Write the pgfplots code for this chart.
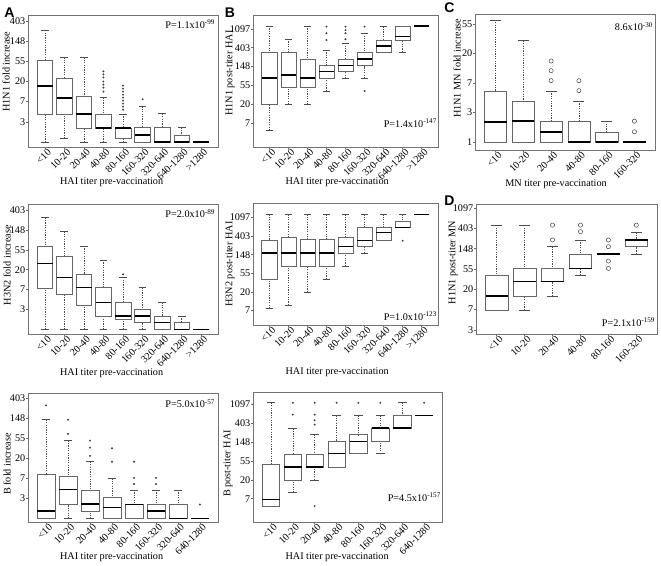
\documentclass[border=0pt]{standalone}
\usepackage{pgfplots}
\pgfplotsset{compat=1.18}
\usepgfplotslibrary{statistics}
\usepackage{fontspec}
\setmainfont{Liberation Serif}
\newfontfamily\lettfont{Liberation Sans}
\newcommand{\fs}{\fontsize{10.2}{12}\selectfont}

\pgfplotsset{
  boxplot/draw direction=y,
  boxplot/box extend=0.8,
  boxplot/whisker extend=0.4,
  boxplot/every box/.style={draw=black!60, line width=0.55pt},
  boxplot/every median/.style={draw=black, line width=1.5pt},
  boxplot/draw/lower whisker/.code={%
    \draw[black!70, line width=0.45pt, dash pattern=on 1.2pt off 1.2pt]
      (boxplot box cs:\pgfplotsboxplotvalue{lower whisker},0.5) --
      (boxplot box cs:\pgfplotsboxplotvalue{lower quartile},0.5);
    \draw[black!70, line width=0.55pt]
      (boxplot whisker cs:\pgfplotsboxplotvalue{lower whisker},0) --
      (boxplot whisker cs:\pgfplotsboxplotvalue{lower whisker},1);
  },
  boxplot/draw/upper whisker/.code={%
    \draw[black!70, line width=0.45pt, dash pattern=on 1.2pt off 1.2pt]
      (boxplot box cs:\pgfplotsboxplotvalue{upper whisker},0.5) --
      (boxplot box cs:\pgfplotsboxplotvalue{upper quartile},0.5);
    \draw[black!70, line width=0.55pt]
      (boxplot whisker cs:\pgfplotsboxplotvalue{upper whisker},0) --
      (boxplot whisker cs:\pgfplotsboxplotvalue{upper whisker},1);
  },
  panel/.style={
    scale only axis, anchor=north west, enlargelimits=false,
    axis line style={draw=black!55, line width=0.6pt},
    tick align=outside, major tick length=2pt,
    tick style={black!60, line width=0.5pt},
    xtick pos=bottom, ytick pos=left,
    tick label style={font=\fs},
    label style={font=\fs},
    xticklabel style={xshift=5pt, yshift=-1pt, rotate=45, anchor=east, inner sep=0.5pt},
    yticklabel style={inner sep=0.6pt},
  },
  hai9/.style={xmin=0.14, xmax=9.86, xtick={1,...,9},
    xticklabels={<10,10-20,20-40,40-80,80-160,160-320,320-640,640-1280,>1280}},
  hai8/.style={xmin=0.18, xmax=8.82, xtick={1,...,8},
    xticklabels={<10,10-20,20-40,40-80,80-160,160-320,320-640,640-1280}},
  mn6/.style={xmin=0.26, xmax=6.74, xtick={1,...,6},
    xticklabels={<10,10-20,20-40,40-80,80-160,160-320}},
  fold/.style={ytick={1,...,6}, yticklabels={3,7,20,55,148,403}},
  post/.style={ytick={2,...,7}, yticklabels={7,20,55,148,403,1097}},
  o1/.style={black, mark=*, mark size=0.75pt, mark options={black!75}},
  o2/.style={black, mark=o, mark size=2.1pt, mark options={black!75, line width=0.5pt}},
}

\begin{document}
\begin{tikzpicture}
\useasboundingbox (0,0) rectangle (661pt,-565pt);

% ---------------- A : H1N1 fold increase
\begin{axis}[panel, hai9, fold, at={(28pt,-15pt)}, width=190pt, height=132pt,
  ymin=-0.25, ymax=6.3,
  xlabel={HAI titer pre-vaccination}, ylabel={H1N1 fold increase},
  xlabel style={at={(axis description cs:0.44,-0.265)}, anchor=center},
  ylabel style={at={(axis description cs:-0.115,0.57)}, anchor=center}]
\addplot[o1, boxplot prepared={draw position=1, lower whisker=0, lower quartile=1.39, median=2.77, upper quartile=4.05, upper whisker=5.55}] coordinates {};
\addplot[o1, boxplot prepared={draw position=2, lower whisker=0.18, lower quartile=1.39, median=2.18, upper quartile=3.15, upper whisker=4.2}] coordinates {};
\addplot[o1, boxplot prepared={draw position=3, lower whisker=0, lower quartile=0.69, median=1.39, upper quartile=2.27, upper whisker=4.2}] coordinates {};
\addplot[o1, boxplot prepared={draw position=4, lower whisker=0, lower quartile=0.69, median=0.69, upper quartile=1.39, upper whisker=2.2}] table[row sep=\\, y index=0] {data\\ 2.5\\ 2.7\\ 2.85\\ 3.0\\ 3.2\\ 3.35\\ 3.5\\};
\addplot[o1, boxplot prepared={draw position=5, lower whisker=0, lower quartile=0.18, median=0.69, upper quartile=0.69, upper whisker=1.39}] table[row sep=\\, y index=0] {data\\ 1.6\\ 1.75\\ 1.9\\ 2.05\\ 2.2\\ 2.35\\ 2.5\\ 2.65\\ 2.8\\};
\addplot[o1, boxplot prepared={draw position=6, lower whisker=0, lower quartile=0, median=0.35, upper quartile=0.71, upper whisker=1.76}] table[row sep=\\, y index=0] {data\\ 2.12\\};
\addplot[o1, boxplot prepared={draw position=7, lower whisker=0, lower quartile=0, median=0, upper quartile=0.71, upper whisker=1.4}] coordinates {};
\addplot[o1, boxplot prepared={draw position=8, lower whisker=0, lower quartile=0, median=0, upper quartile=0.35, upper whisker=0.71}] coordinates {};
\addplot[o1, boxplot prepared={draw position=9, lower whisker=0, lower quartile=0, median=0, upper quartile=0, upper whisker=0}] coordinates {};
\node[anchor=north east, font=\fs, inner sep=0pt] at (rel axis cs:0.985,0.965) {P=1.1x10\textsuperscript{-99}};
\end{axis}

% ---------------- B : H1N1 post-titer HAI
\begin{axis}[panel, hai9, post, at={(253pt,-15pt)}, width=185pt, height=132pt,
  ymin=0.72, ymax=7.74,
  xlabel={HAI titer pre-vaccination}, ylabel={H1N1 post-titer HAI},
  xlabel style={at={(axis description cs:0.455,-0.265)}, anchor=center},
  ylabel style={at={(axis description cs:-0.124,0.56)}, anchor=center}]
\addplot[o1, boxplot prepared={draw position=1, lower whisker=1.61, lower quartile=3.0, median=4.38, upper quartile=5.77, upper whisker=7.15}] coordinates {};
\addplot[o1, boxplot prepared={draw position=2, lower whisker=3.0, lower quartile=3.88, median=4.55, upper quartile=5.77, upper whisker=6.46}] coordinates {};
\addplot[o1, boxplot prepared={draw position=3, lower whisker=3.0, lower quartile=3.88, median=4.38, upper quartile=5.39, upper whisker=7.15}] coordinates {};
\addplot[o1, boxplot prepared={draw position=4, lower whisker=3.7, lower quartile=4.38, median=4.73, upper quartile=5.05, upper whisker=5.88}] table[row sep=\\, y index=0] {data\\ 6.41\\ 6.77\\ 7.12\\};
\addplot[o1, boxplot prepared={draw position=5, lower whisker=4.38, lower quartile=4.73, median=5.05, upper quartile=5.39, upper whisker=6.24}] table[row sep=\\, y index=0] {data\\ 6.45\\ 6.77\\ 6.94\\ 7.12\\};
\addplot[o1, boxplot prepared={draw position=6, lower whisker=4.38, lower quartile=5.05, median=5.39, upper quartile=5.77, upper whisker=6.77}] table[row sep=\\, y index=0] {data\\ 7.12\\ 3.7\\};
\addplot[o1, boxplot prepared={draw position=7, lower whisker=5.77, lower quartile=5.77, median=6.1, upper quartile=6.41, upper whisker=7.12}] coordinates {};
\addplot[o1, boxplot prepared={draw position=8, lower whisker=5.77, lower quartile=6.41, median=6.6, upper quartile=7.12, upper whisker=7.12}] coordinates {};
\addplot[o1, boxplot prepared={draw position=9, lower whisker=7.15, lower quartile=7.15, median=7.15, upper quartile=7.15, upper whisker=7.15}] coordinates {};
\node[anchor=base east, font=\fs, inner sep=0pt] at (rel axis cs:0.995,0.15) {P=1.4x10\textsuperscript{-147}};
\end{axis}

% ---------------- C : H1N1 MN fold increase
\begin{axis}[panel, mn6, at={(475pt,-14pt)}, width=180pt, height=136pt,
  ymin=-0.28, ymax=4.35, ytick={0,...,4}, yticklabels={1,3,7,20,55},
  xlabel={MN titer pre-vaccination}, ylabel={H1N1 MN fold increase},
  xlabel style={at={(axis description cs:0.45,-0.254)}, anchor=center},
  ylabel style={at={(axis description cs:-0.1,0.6)}, anchor=center}]
\addplot[o2, boxplot prepared={draw position=1, lower whisker=0, lower quartile=0, median=0.68, upper quartile=1.73, upper whisker=4.15}] coordinates {};
\addplot[o2, boxplot prepared={draw position=2, lower whisker=0, lower quartile=0, median=0.7, upper quartile=1.39, upper whisker=3.44}] coordinates {};
\addplot[o2, boxplot prepared={draw position=3, lower whisker=0, lower quartile=0, median=0.34, upper quartile=0.7, upper whisker=1.73}] table[row sep=\\, y index=0] {data\\ 2.08\\ 2.42\\ 2.75\\};
\addplot[o2, boxplot prepared={draw position=4, lower whisker=0, lower quartile=0, median=0, upper quartile=0.7, upper whisker=1.39}] table[row sep=\\, y index=0] {data\\ 1.74\\ 2.08\\};
\addplot[o2, boxplot prepared={draw position=5, lower whisker=0, lower quartile=0, median=0, upper quartile=0.34, upper whisker=0.7}] coordinates {};
\addplot[o2, boxplot prepared={draw position=6, lower whisker=0, lower quartile=0, median=0, upper quartile=0, upper whisker=0}] table[row sep=\\, y index=0] {data\\ 0.34\\ 0.7\\};
\node[anchor=north east, font=\fs, inner sep=0pt] at (rel axis cs:0.99,0.94) {8.6x10\textsuperscript{-30}};
\end{axis}

% ---------------- A2 : H3N2 fold increase
\begin{axis}[panel, hai9, fold, at={(28pt,-204pt)}, width=190pt, height=130pt,
  ymin=-0.23, ymax=6.3,
  xlabel={HAI titer pre-vaccination}, ylabel={H3N2 fold increase},
  xlabel style={at={(axis description cs:0.44,-0.30)}, anchor=center},
  ylabel style={at={(axis description cs:-0.11,0.53)}, anchor=center}]
\addplot[o1, boxplot prepared={draw position=1, lower whisker=0, lower quartile=2.06, median=3.32, upper quartile=4.19, upper whisker=5.62}] coordinates {};
\addplot[o1, boxplot prepared={draw position=2, lower whisker=0, lower quartile=1.76, median=2.62, upper quartile=3.66, upper whisker=4.92}] coordinates {};
\addplot[o1, boxplot prepared={draw position=3, lower whisker=0, lower quartile=1.19, median=2.1, upper quartile=2.79, upper whisker=4.19}] coordinates {};
\addplot[o1, boxplot prepared={draw position=4, lower whisker=0, lower quartile=0.67, median=1.36, upper quartile=2.1, upper whisker=3.49}] coordinates {};
\addplot[o1, boxplot prepared={draw position=5, lower whisker=0, lower quartile=0.5, median=0.67, upper quartile=1.36, upper whisker=2.62}] table[row sep=\\, y index=0] {data\\ 2.77\\};
\addplot[o1, boxplot prepared={draw position=6, lower whisker=0, lower quartile=0.34, median=0.67, upper quartile=1.02, upper whisker=2.1}] coordinates {};
\addplot[o1, boxplot prepared={draw position=7, lower whisker=0, lower quartile=0, median=0.34, upper quartile=0.67, upper whisker=1.36}] coordinates {};
\addplot[o1, boxplot prepared={draw position=8, lower whisker=0, lower quartile=0, median=0, upper quartile=0.34, upper whisker=0.67}] coordinates {};
\addplot[o1, boxplot prepared={draw position=9, lower whisker=0, lower quartile=0, median=0, upper quartile=0, upper whisker=0}] coordinates {};
\node[anchor=north east, font=\fs, inner sep=0pt] at (rel axis cs:0.985,0.96) {P=2.0x10\textsuperscript{-89}};
\end{axis}

% ---------------- B2 : H3N2 post-titer HAI
\begin{axis}[panel, hai9, post, at={(253pt,-203pt)}, width=185pt, height=122pt,
  ymin=1.23, ymax=7.77,
  xlabel={HAI titer pre-vaccination}, ylabel={H3N2 post-titer HAI},
  xlabel style={at={(axis description cs:0.455,-0.39)}, anchor=center},
  ylabel style={at={(axis description cs:-0.124,0.5)}, anchor=center}]
\addplot[o1, boxplot prepared={draw position=1, lower whisker=2.13, lower quartile=3.68, median=5.1, upper quartile=5.75, upper whisker=7.16}] coordinates {};
\addplot[o1, boxplot prepared={draw position=2, lower whisker=2.3, lower quartile=4.39, median=5.1, upper quartile=5.91, upper whisker=7.16}] coordinates {};
\addplot[o1, boxplot prepared={draw position=3, lower whisker=3.0, lower quartile=4.39, median=5.1, upper quartile=5.82, upper whisker=7.16}] coordinates {};
\addplot[o1, boxplot prepared={draw position=4, lower whisker=3.7, lower quartile=4.39, median=5.1, upper quartile=5.82, upper whisker=7.16}] coordinates {};
\addplot[o1, boxplot prepared={draw position=5, lower whisker=4.39, lower quartile=5.1, median=5.43, upper quartile=5.91, upper whisker=7.16}] coordinates {};
\addplot[o1, boxplot prepared={draw position=6, lower whisker=5.1, lower quartile=5.43, median=5.75, upper quartile=6.45, upper whisker=7.16}] coordinates {};
\addplot[o1, boxplot prepared={draw position=7, lower whisker=5.75, lower quartile=5.75, median=6.2, upper quartile=6.45, upper whisker=7.16}] coordinates {};
\addplot[o1, boxplot prepared={draw position=8, lower whisker=6.45, lower quartile=6.45, median=6.45, upper quartile=6.8, upper whisker=7.16}] table[row sep=\\, y index=0] {data\\ 5.75\\};
\addplot[o1, boxplot prepared={draw position=9, lower whisker=7.16, lower quartile=7.16, median=7.16, upper quartile=7.16, upper whisker=7.16}] coordinates {};
\node[anchor=base east, font=\fs, inner sep=0pt] at (rel axis cs:0.995,0.04) {P=1.0x10\textsuperscript{-123}};
\end{axis}

% ---------------- D : H1N1 post-titer MN
\begin{axis}[panel, mn6, at={(476pt,-204pt)}, width=181pt, height=130pt,
  ymin=0.8, ymax=7.2, ytick={1,...,7}, yticklabels={3,7,20,55,148,403,1097},
  ylabel={H1N1 post-titer MN},
  ylabel style={at={(axis description cs:-0.127,0.55)}, anchor=center}]
\addplot[o2, boxplot prepared={draw position=1, lower whisker=1.98, lower quartile=1.98, median=2.67, upper quartile=3.7, upper whisker=6.16}] coordinates {};
\addplot[o2, boxplot prepared={draw position=2, lower whisker=1.98, lower quartile=2.67, median=3.38, upper quartile=4.03, upper whisker=6.16}] coordinates {};
\addplot[o2, boxplot prepared={draw position=3, lower whisker=2.67, lower quartile=3.38, median=3.38, upper quartile=4.03, upper whisker=5.1}] table[row sep=\\, y index=0] {data\\ 5.43\\ 6.16\\};
\addplot[o2, boxplot prepared={draw position=4, lower whisker=3.7, lower quartile=4.03, median=4.03, upper quartile=4.74, upper whisker=5.43}] table[row sep=\\, y index=0] {data\\ 5.84\\ 6.16\\};
\addplot[o2, boxplot prepared={draw position=5, lower whisker=4.74, lower quartile=4.74, median=4.74, upper quartile=4.74, upper whisker=4.74}] table[row sep=\\, y index=0] {data\\ 4.03\\ 4.39\\ 5.1\\ 5.43\\};
\addplot[o2, boxplot prepared={draw position=6, lower whisker=4.74, lower quartile=5.1, median=5.43, upper quartile=5.43, upper whisker=5.79}] table[row sep=\\, y index=0] {data\\ 6.16\\};
\node[anchor=base east, font=\fs, inner sep=0pt] at (rel axis cs:0.99,0.06) {P=2.1x10\textsuperscript{-159}};
\end{axis}

% ---------------- A3 : B fold increase
\begin{axis}[panel, hai8, fold, at={(28pt,-393pt)}, width=190pt, height=129pt,
  ymin=-0.17, ymax=6.25,
  xlabel={HAI titer pre-vaccination}, ylabel={B fold increase},
  xlabel style={at={(axis description cs:0.44,-0.27)}, anchor=center},
  ylabel style={at={(axis description cs:-0.11,0.45)}, anchor=center}]
\addplot[o1, boxplot prepared={draw position=1, lower whisker=0, lower quartile=0, median=0.37, upper quartile=2.2, upper whisker=4.92}] table[row sep=\\, y index=0] {data\\ 5.63\\};
\addplot[o1, boxplot prepared={draw position=2, lower whisker=0, lower quartile=0.7, median=1.45, upper quartile=2.12, upper whisker=3.88}] table[row sep=\\, y index=0] {data\\ 4.22\\ 4.92\\};
\addplot[o1, boxplot prepared={draw position=3, lower whisker=0, lower quartile=0.37, median=0.72, upper quartile=1.42, upper whisker=2.83}] table[row sep=\\, y index=0] {data\\ 3.12\\ 3.53\\ 3.88\\};
\addplot[o1, boxplot prepared={draw position=4, lower whisker=0, lower quartile=0, median=0.55, upper quartile=1.05, upper whisker=2.0}] table[row sep=\\, y index=0] {data\\ 2.83\\ 3.5\\};
\addplot[o1, boxplot prepared={draw position=5, lower whisker=0, lower quartile=0, median=0.7, upper quartile=0.7, upper whisker=1.42}] table[row sep=\\, y index=0] {data\\ 1.72\\ 2.03\\ 2.83\\};
\addplot[o1, boxplot prepared={draw position=6, lower whisker=0, lower quartile=0, median=0.37, upper quartile=0.7, upper whisker=1.42}] table[row sep=\\, y index=0] {data\\ 1.72\\ 2.03\\};
\addplot[o1, boxplot prepared={draw position=7, lower whisker=0, lower quartile=0, median=0, upper quartile=0.7, upper whisker=1.42}] coordinates {};
\addplot[o1, boxplot prepared={draw position=8, lower whisker=0, lower quartile=0, median=0, upper quartile=0, upper whisker=0}] table[row sep=\\, y index=0] {data\\ 0.7\\};
\node[anchor=north east, font=\fs, inner sep=0pt] at (rel axis cs:0.985,0.95) {P=5.0x10\textsuperscript{-57}};
\end{axis}

% ---------------- B3 : B post-titer HAI
\begin{axis}[panel, hai8, post, at={(253pt,-392pt)}, width=189pt, height=130pt,
  ymin=0.76, ymax=7.67,
  xlabel={HAI titer pre-vaccination}, ylabel={B post-titer HAI},
  xlabel style={at={(axis description cs:0.445,-0.27)}, anchor=center},
  ylabel style={at={(axis description cs:-0.132,0.45)}, anchor=center}]
\addplot[o1, boxplot prepared={draw position=1, lower whisker=1.61, lower quartile=1.61, median=1.96, upper quartile=3.83, upper whisker=7.1}] coordinates {};
\addplot[o1, boxplot prepared={draw position=2, lower whisker=2.32, lower quartile=3.0, median=3.68, upper quartile=4.36, upper whisker=5.72}] table[row sep=\\, y index=0] {data\\ 6.47\\ 7.1\\};
\addplot[o1, boxplot prepared={draw position=3, lower whisker=3.0, lower quartile=3.68, median=3.68, upper quartile=4.36, upper whisker=5.4}] table[row sep=\\, y index=0] {data\\ 5.94\\ 6.17\\ 6.47\\ 7.1\\ 1.61\\};
\addplot[o1, boxplot prepared={draw position=4, lower whisker=3.68, lower quartile=3.68, median=4.39, upper quartile=5.05, upper whisker=6.43}] table[row sep=\\, y index=0] {data\\ 7.1\\};
\addplot[o1, boxplot prepared={draw position=5, lower whisker=4.39, lower quartile=4.39, median=5.05, upper quartile=5.4, upper whisker=6.43}] table[row sep=\\, y index=0] {data\\ 7.1\\};
\addplot[o1, boxplot prepared={draw position=6, lower whisker=4.39, lower quartile=5.05, median=5.76, upper quartile=5.76, upper whisker=6.43}] table[row sep=\\, y index=0] {data\\ 7.1\\};
\addplot[o1, boxplot prepared={draw position=7, lower whisker=5.76, lower quartile=5.76, median=5.76, upper quartile=6.43, upper whisker=7.1}] coordinates {};
\addplot[o1, boxplot prepared={draw position=8, lower whisker=6.43, lower quartile=6.43, median=6.43, upper quartile=6.43, upper whisker=6.43}] table[row sep=\\, y index=0] {data\\ 7.1\\};
\node[anchor=base east, font=\fs, inner sep=0pt] at (rel axis cs:0.995,0.16) {P=4.5x10\textsuperscript{-157}};
\end{axis}

% panel letters
\node[font=\fontsize{14}{14}\lettfont\bfseries] at (9.5pt,-12.5pt) {A};
\node[font=\fontsize{14}{14}\lettfont\bfseries] at (230pt,-13pt) {B};
\node[font=\fontsize{14}{14}\lettfont\bfseries] at (449.5pt,-8pt) {C};
\node[font=\fontsize{14}{14}\lettfont\bfseries] at (449.5pt,-201pt) {D};
\end{tikzpicture}
\end{document}
